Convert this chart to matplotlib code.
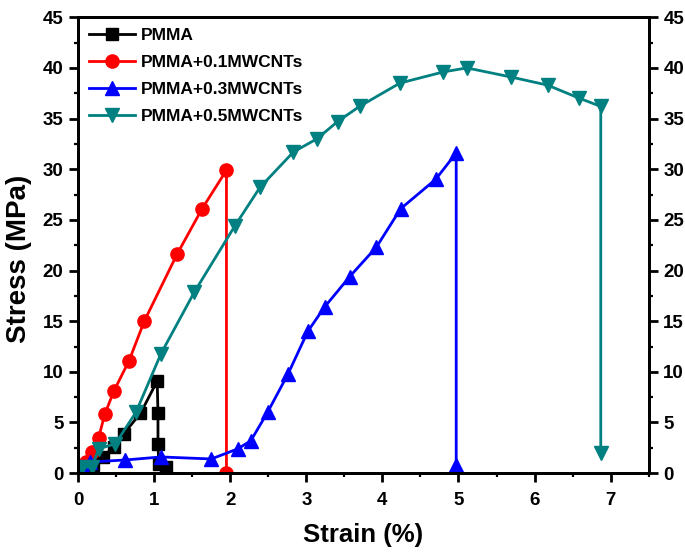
import matplotlib
matplotlib.use('Agg')
import matplotlib.pyplot as plt
from matplotlib.ticker import MultipleLocator

plt.rcParams['font.family'] = ['Liberation Sans', 'DejaVu Sans']
plt.rcParams['font.weight'] = 'bold'

# PMMA
x_pmma = [0.05, 0.20, 0.33, 0.47, 0.60, 0.82, 1.04, 1.05, 1.05, 1.06, 1.15]
y_pmma = [0.2, 0.8, 1.6, 2.6, 3.9, 5.9, 9.1, 5.9, 2.9, 0.9, 0.6]
# PMMA+0.1MWCNTs
x_01 = [0.03, 0.10, 0.18, 0.27, 0.35, 0.47, 0.67, 0.87, 1.30, 1.63, 1.95, 1.95]
y_01 = [0.3, 1.1, 2.1, 3.5, 5.8, 8.1, 11.1, 15.0, 21.6, 26.1, 29.9, 0.0]
# PMMA+0.3MWCNTs
x_03 = [0.06, 0.15, 0.62, 1.09, 1.75, 2.10, 2.27, 2.49, 2.76, 3.02, 3.24, 3.57,
        3.92, 4.24, 4.70, 4.97, 4.97]
y_03 = [0.6, 1.1, 1.3, 1.6, 1.4, 2.4, 3.2, 6.0, 9.8, 14.0, 16.4, 19.4,
        22.3, 26.1, 29.0, 31.6, 0.8]
# PMMA+0.5MWCNTs
x_05 = [0.05, 0.18, 0.27, 0.49, 0.76, 1.09, 1.53, 2.06, 2.39, 2.83, 3.14, 3.41,
        3.70, 4.23, 4.80, 5.11, 5.69, 6.17, 6.59, 6.87, 6.87]
y_05 = [0.6, 0.6, 2.4, 2.9, 6.0, 11.8, 17.9, 24.4, 28.2, 31.7, 33.0, 34.7,
        36.2, 38.5, 39.6, 40.0, 39.1, 38.3, 37.0, 36.2, 2.0]

labels = ['PMMA', 'PMMA+0.1MWCNTs', 'PMMA+0.3MWCNTs', 'PMMA+0.5MWCNTs']

fig = plt.figure(figsize=(6.85, 5.56), dpi=100)
ax = fig.add_axes([0.114, 0.149, 0.833, 0.820])

ax.plot(x_pmma, y_pmma, color='black', marker='s', ms=8, lw=2, label=labels[0])
ax.plot(x_01, y_01, color='red', marker='o', ms=9.5, lw=2, label=labels[1])
ax.plot(x_03, y_03, color='blue', marker='^', ms=10, lw=2, label=labels[2])
ax.plot(x_05, y_05, color='#008080', marker='v', ms=10, lw=2, label=labels[3])

ax.set_xlim(0, 7.5)
ax.set_ylim(0, 45)
ax.xaxis.set_major_locator(MultipleLocator(1))
ax.xaxis.set_minor_locator(MultipleLocator(0.5))
ax.yaxis.set_major_locator(MultipleLocator(5))
ax.yaxis.set_minor_locator(MultipleLocator(2.5))

ax2 = ax.twinx()
ax2.set_ylim(0, 45)
ax2.yaxis.set_major_locator(MultipleLocator(5))
ax2.yaxis.set_minor_locator(MultipleLocator(2.5))

for a in (ax, ax2):
    for s in a.spines.values():
        s.set_linewidth(2)
    a.tick_params(which='major', direction='out', length=6.5, width=2,
                  labelsize=13.5, pad=4)
    a.tick_params(which='minor', direction='out', length=3, width=1.6)
ax.tick_params(axis='x', which='major', pad=7)

ax.set_xlabel('Strain (%)', fontsize=18.5, fontweight='bold', labelpad=10)
ax.set_ylabel('Stress (MPa)', fontsize=20, fontweight='bold')
ax.yaxis.set_label_coords(-0.08, 0.47)

leg = ax.legend(loc='upper left', frameon=False, fontsize=12.5, handlelength=2.7,
                borderaxespad=0.2, labelspacing=0.68, handletextpad=0.3)
for t in leg.get_texts():
    t.set_fontweight('bold')

fig.savefig('out.png', dpi=100)
